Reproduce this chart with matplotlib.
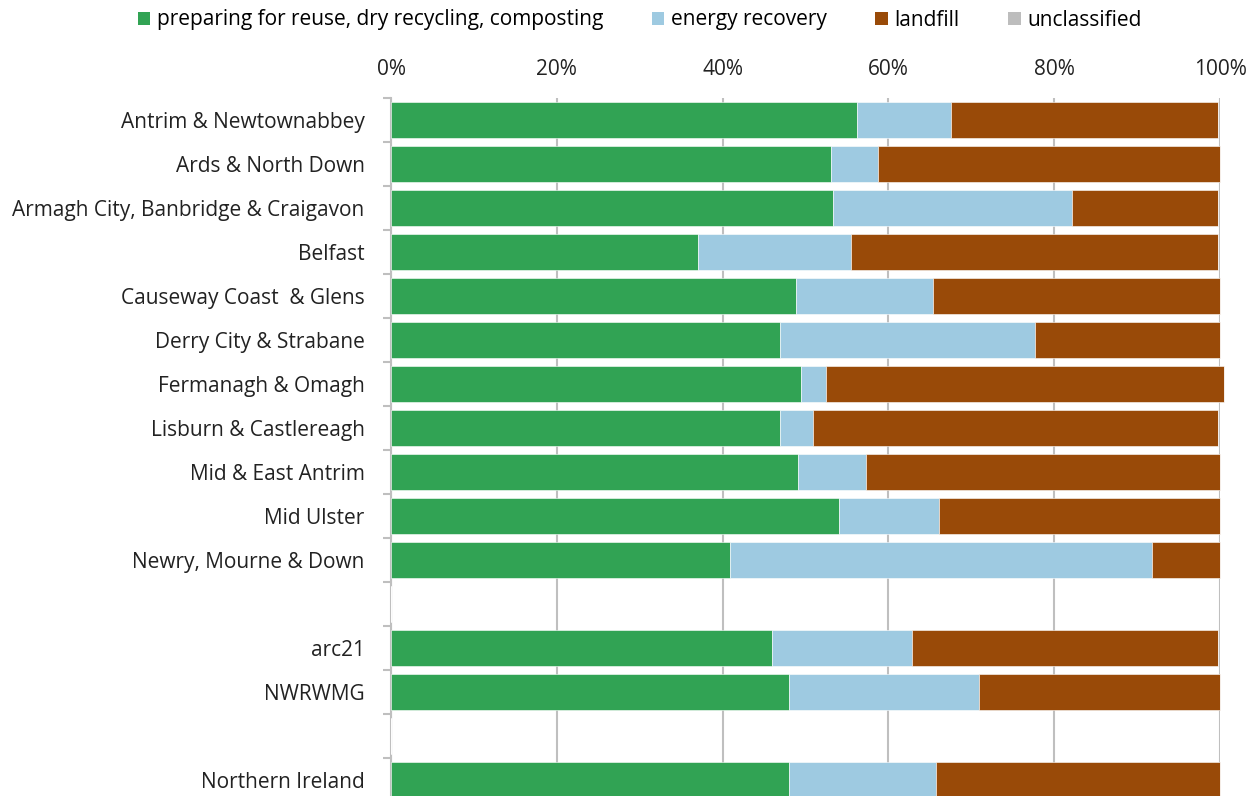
import matplotlib.pyplot as plt
import numpy as np
from matplotlib.patches import Patch

# --- Data (percent of total waste arisings) ---
areas = ["Antrim & Newtownabbey", "Ards & North Down", "Armagh City, Banbridge & Craigavon",
         "Belfast", "Causeway Coast  & Glens", "Derry City & Strabane", "Fermanagh & Omagh",
         "Lisburn & Castlereagh", "Mid & East Antrim", "Mid Ulster", "Newry, Mourne & Down",
         "", "arc21", "NWRWMG", "", "Northern Ireland"]
recycling = [56.2, 53.1, 53.3, 37.0, 48.9, 46.9, 49.5, 46.9, 49.1, 54.0, 40.9, 0, 46.0, 48.0, 0, 48.0]
energy = [11.4, 5.7, 28.8, 18.5, 16.5, 30.8, 3.0, 4.0, 8.2, 12.1, 50.9, 0, 16.8, 22.9, 0, 17.8]
landfill = [32.1, 41.2, 17.6, 44.2, 34.6, 22.3, 48.0, 48.8, 42.7, 33.9, 8.2, 0, 36.9, 29.1, 0, 34.2]
unclassified = [0, 0, 0, 0, 0, 0, 0, 0, 0, 0, 0, 0, 0, 0, 0, 0]

series = ["preparing for reuse, dry recycling, composting", "energy recovery", "landfill", "unclassified"]
colors = ["#31A354", "#9ECAE1", "#994A08", "#BDBDBD"]

plt.rcParams['font.family'] = ['Open Sans', 'DejaVu Sans']
fs = 15

fig = plt.figure(figsize=(12.59, 7.96), dpi=100)
ax = fig.add_axes([391 / 1259, 1 - 802 / 796, 829 / 1259, 704 / 796])

y = np.arange(len(areas))
left = np.zeros(len(areas))
for vals, col in zip([recycling, energy, landfill, unclassified], colors):
    vals = np.array(vals, dtype=float)
    bars = ax.barh(y, vals, left=left, height=0.8, color=col, edgecolor="white",
                   linewidth=0.4, zorder=3)
    for b in bars:
        b.set_clip_on(False)
    left += vals

ax.set_xlim(0, 100)
ax.set_ylim(len(areas) - 0.5, -0.5)

ax.xaxis.tick_top()
ax.set_xticks(np.arange(0, 101, 20))
ax.set_xticklabels([f"{v}%" for v in range(0, 101, 20)], fontsize=fs, color="#222222")
ax.tick_params(axis="x", length=0, pad=13)
ax.grid(axis="x", color="#BFBFBF", linewidth=1.5, zorder=0)

ax.set_yticks(y)
ax.set_yticklabels(areas, fontsize=fs, color="#222222")
ax.tick_params(axis="y", which="major", length=0, pad=19)
ax.set_yticks(np.arange(-0.5, len(areas)), minor=True)
ax.tick_params(axis="y", which="minor", length=6, width=1.5, color="#BFBFBF")

for s in ["top", "right", "bottom"]:
    ax.spines[s].set_visible(False)
ax.spines["left"].set_color("#BFBFBF")
ax.spines["left"].set_linewidth(1.5)

handles = [Patch(facecolor=c, edgecolor="none") for c in colors]
fig.legend(handles, series, loc="center", bbox_to_anchor=(0.508, 1 - 20 / 796), ncol=4,
           frameon=False, fontsize=fs, handlelength=0.6, handleheight=0.6,
           handletextpad=0.3, columnspacing=2.35)

fig.savefig("out.png", dpi=100)
